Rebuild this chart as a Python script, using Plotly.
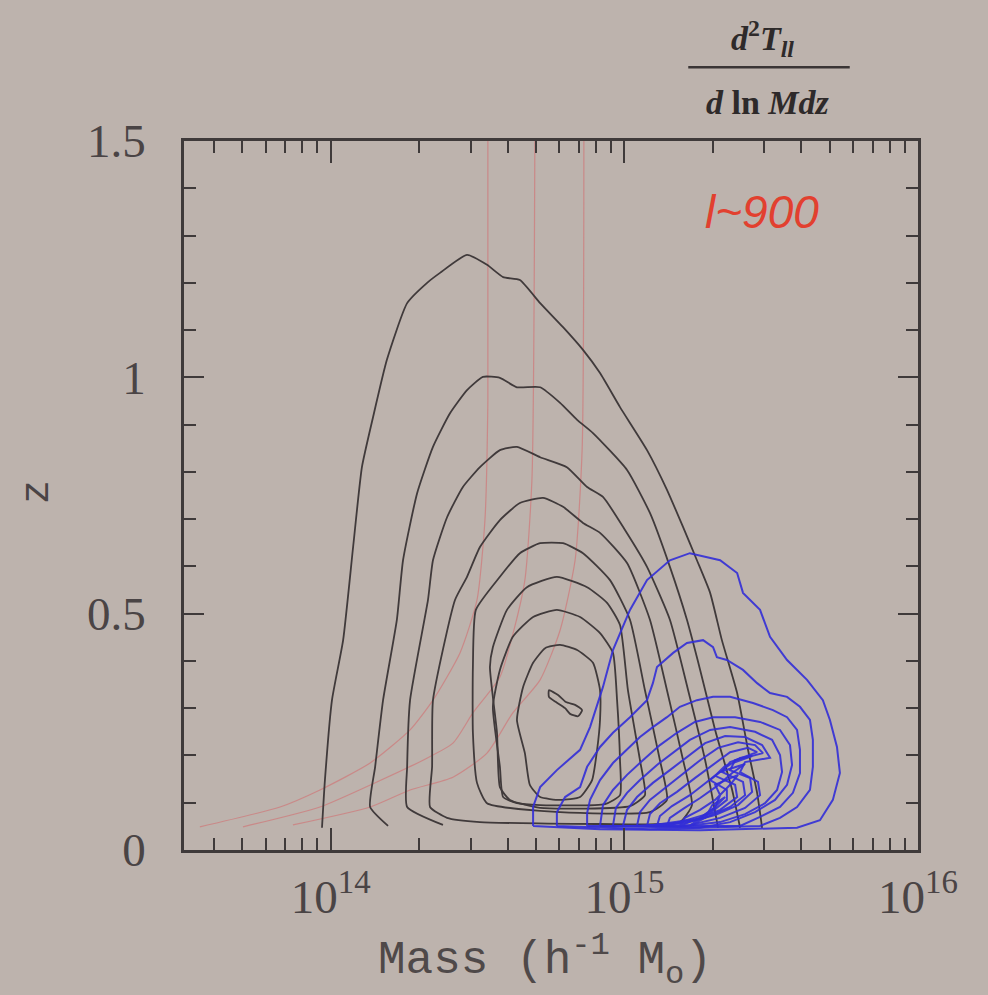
import plotly.graph_objects as go

# ---------------- data (log10 mass, redshift z) ----------------
black_logm = [
    [13.970, 13.980, 14.004, 14.042, 14.076, 14.106, 14.144, 14.191, 14.260, 14.328, 14.372, 14.464,
     14.532, 14.587, 14.644, 14.713, 14.791, 14.859, 14.917, 14.985, 15.077, 15.145, 15.200, 15.247,
     15.292, 15.332, 15.384, 15.421, 15.452, 15.469],
    [14.195, 14.134, 14.151, 14.178, 14.225, 14.246, 14.294, 14.348, 14.406, 14.464, 14.518, 14.576,
     14.634, 14.713, 14.781, 14.839, 14.893, 15.009, 15.087, 15.155, 15.213, 15.258, 15.309, 15.367, 15.394],
    [14.382, 14.260, 14.260, 14.270, 14.331, 14.348, 14.396, 14.450, 14.508, 14.576, 14.634, 14.713,
     14.804, 14.873, 14.927, 15.002, 15.077, 15.155, 15.217, 15.275, 15.319],
    [14.508, 14.396, 14.338, 14.345, 14.348, 14.423, 14.464, 14.508, 14.576, 14.644, 14.723, 14.791,
     14.859, 14.917, 15.009, 15.087, 15.145, 15.200, 15.230, 15.189, 14.917, 14.508],
    [14.781, 14.532, 14.498, 14.484, 14.484, 14.494, 14.576, 14.644, 14.713, 14.791, 14.859, 14.951,
     15.019, 15.070, 15.121, 15.145, 15.087, 14.781],
    [14.713, 14.610, 14.576, 14.566, 14.542, 14.552, 14.600, 14.668, 14.770, 14.873, 14.941, 14.985,
     15.012, 15.053, 15.070, 15.019, 14.713],
    [14.713, 14.634, 14.587, 14.576, 14.552, 14.576, 14.620, 14.689, 14.770, 14.849, 14.917, 14.961,
     14.975, 14.985, 14.985, 14.934, 14.713],
    [14.781, 14.713, 14.678, 14.661, 14.634, 14.655, 14.689, 14.730, 14.781, 14.839, 14.893, 14.917,
     14.917, 14.907, 14.890, 14.849, 14.781],
    [14.743, 14.774, 14.801, 14.832, 14.856, 14.842, 14.815, 14.798, 14.767, 14.743, 14.743],
]
black_z = [
    [0.047, 0.148, 0.317, 0.444, 0.641, 0.810, 0.916, 1.037, 1.157, 1.200, 1.221, 1.259,
     1.238, 1.212, 1.206, 1.157, 1.106, 1.058, 1.009, 0.937, 0.846, 0.762, 0.683, 0.613,
     0.544, 0.444, 0.332, 0.212, 0.121, 0.047],
    [0.051, 0.091, 0.176, 0.317, 0.487, 0.613, 0.755, 0.853, 0.924, 0.973, 1.001, 0.999,
     0.979, 0.979, 0.946, 0.910, 0.882, 0.804, 0.713, 0.599, 0.487, 0.381, 0.254, 0.127, 0.047],
    [0.053, 0.091, 0.176, 0.317, 0.529, 0.613, 0.704, 0.768, 0.810, 0.846, 0.853, 0.831,
     0.810, 0.768, 0.747, 0.677, 0.599, 0.487, 0.338, 0.190, 0.047],
    [0.059, 0.068, 0.091, 0.176, 0.317, 0.529, 0.578, 0.641, 0.698, 0.734, 0.745, 0.726,
     0.692, 0.671, 0.607, 0.487, 0.338, 0.190, 0.095, 0.059, 0.055, 0.059],
    [0.080, 0.099, 0.142, 0.248, 0.387, 0.508, 0.578, 0.628, 0.649, 0.649, 0.628, 0.571,
     0.487, 0.338, 0.190, 0.106, 0.080, 0.080],
    [0.089, 0.106, 0.133, 0.248, 0.387, 0.429, 0.508, 0.556, 0.578, 0.556, 0.523, 0.476,
     0.338, 0.190, 0.116, 0.093, 0.089],
    [0.095, 0.099, 0.112, 0.176, 0.303, 0.381, 0.451, 0.493, 0.508, 0.493, 0.459, 0.417,
     0.317, 0.190, 0.116, 0.097, 0.095],
    [0.106, 0.112, 0.138, 0.205, 0.275, 0.345, 0.396, 0.427, 0.434, 0.423, 0.396, 0.338,
     0.275, 0.212, 0.148, 0.112, 0.106],
    [0.338, 0.328, 0.313, 0.307, 0.296, 0.283, 0.288, 0.300, 0.313, 0.324, 0.338],
]

blue_logm = [
    [14.689, 14.689, 14.713, 14.770, 14.849, 14.883, 14.927, 14.961, 15.019, 15.077, 15.155, 15.223,
     15.326, 15.384, 15.404, 15.462, 15.496, 15.554, 15.622, 15.676, 15.700, 15.724, 15.734, 15.710,
     15.666, 15.588, 15.258, 14.917, 14.689],
    [14.770, 14.770, 14.798, 14.849, 14.873, 14.917, 14.961, 15.019, 15.077, 15.097, 15.111, 15.166,
     15.213, 15.268, 15.302, 15.315, 15.349, 15.404, 15.452, 15.496, 15.554, 15.598, 15.632, 15.642,
     15.642, 15.632, 15.588, 15.530, 15.462, 15.087, 14.770],
    [14.873, 14.873, 14.883, 14.917, 14.961, 15.009, 15.053, 15.097, 15.145, 15.189, 15.247, 15.302,
     15.360, 15.438, 15.506, 15.554, 15.588, 15.598, 15.598, 15.574, 15.530, 15.462, 15.394, 14.873],
    [14.917, 14.927, 14.961, 15.009, 15.063, 15.121, 15.179, 15.240, 15.302, 15.377, 15.462, 15.530,
     15.564, 15.571, 15.554, 15.513, 15.445, 15.360, 15.258, 14.917],
    [14.961, 14.971, 15.009, 15.053, 15.111, 15.166, 15.223, 15.292, 15.360, 15.445, 15.503, 15.530,
     15.537, 15.520, 15.479, 15.411, 15.326, 15.189, 14.961],
    [14.995, 15.009, 15.043, 15.097, 15.155, 15.213, 15.275, 15.343, 15.411, 15.469, 15.496, 15.411,
     15.394, 15.455, 15.462, 15.411, 15.326, 15.223, 14.995],
    [15.043, 15.053, 15.087, 15.138, 15.196, 15.258, 15.319, 15.387, 15.445, 15.472, 15.377, 15.360,
     15.428, 15.435, 15.387, 15.309, 15.206, 15.043],
    [15.077, 15.087, 15.121, 15.179, 15.240, 15.299, 15.360, 15.421, 15.452, 15.360, 15.332, 15.404,
     15.411, 15.360, 15.275, 15.077],
    [15.111, 15.121, 15.162, 15.223, 15.281, 15.336, 15.394, 15.435, 15.343, 15.309, 15.377, 15.384,
     15.326, 15.240, 15.111],
    [15.145, 15.155, 15.200, 15.258, 15.315, 15.367, 15.411, 15.326, 15.292, 15.349, 15.349, 15.292, 15.145],
    [15.189, 15.206, 15.258, 15.309, 15.360, 15.387, 15.309, 15.326, 15.309, 15.258, 15.189],
    [15.223, 15.247, 15.299, 15.343, 15.299, 15.275, 15.223],
]
blue_z = [
    [0.051, 0.091, 0.133, 0.169, 0.212, 0.260, 0.345, 0.423, 0.508, 0.571, 0.613, 0.628,
     0.613, 0.586, 0.544, 0.508, 0.451, 0.402, 0.360, 0.317, 0.275, 0.218, 0.163, 0.106,
     0.063, 0.047, 0.042, 0.044, 0.051],
    [0.051, 0.080, 0.112, 0.133, 0.176, 0.218, 0.248, 0.281, 0.317, 0.353, 0.387, 0.417,
     0.438, 0.444, 0.429, 0.408, 0.402, 0.381, 0.353, 0.332, 0.324, 0.303, 0.275, 0.233,
     0.176, 0.127, 0.091, 0.068, 0.051, 0.044, 0.051],
    [0.051, 0.078, 0.106, 0.148, 0.184, 0.212, 0.239, 0.260, 0.281, 0.303, 0.317, 0.324,
     0.324, 0.311, 0.296, 0.281, 0.254, 0.212, 0.163, 0.121, 0.091, 0.070, 0.051, 0.051],
    [0.051, 0.095, 0.127, 0.159, 0.190, 0.222, 0.248, 0.271, 0.281, 0.281, 0.271, 0.254,
     0.222, 0.180, 0.138, 0.106, 0.080, 0.059, 0.047, 0.051],
    [0.051, 0.089, 0.121, 0.148, 0.180, 0.207, 0.233, 0.254, 0.260, 0.250, 0.233, 0.201,
     0.165, 0.127, 0.099, 0.076, 0.059, 0.049, 0.051],
    [0.051, 0.085, 0.112, 0.142, 0.169, 0.197, 0.226, 0.241, 0.239, 0.222, 0.195, 0.186,
     0.165, 0.144, 0.116, 0.089, 0.068, 0.053, 0.051],
    [0.051, 0.080, 0.106, 0.131, 0.159, 0.190, 0.216, 0.228, 0.222, 0.205, 0.190, 0.169,
     0.152, 0.123, 0.095, 0.074, 0.057, 0.051],
    [0.051, 0.076, 0.099, 0.123, 0.152, 0.180, 0.207, 0.216, 0.207, 0.186, 0.165, 0.144,
     0.116, 0.091, 0.068, 0.051],
    [0.051, 0.072, 0.093, 0.116, 0.144, 0.171, 0.195, 0.199, 0.178, 0.157, 0.138, 0.112,
     0.085, 0.063, 0.051],
    [0.051, 0.068, 0.087, 0.110, 0.135, 0.163, 0.182, 0.165, 0.148, 0.127, 0.106, 0.078, 0.051],
    [0.051, 0.068, 0.085, 0.106, 0.138, 0.159, 0.138, 0.116, 0.091, 0.068, 0.051],
    [0.051, 0.063, 0.085, 0.112, 0.095, 0.068, 0.051],
]

red_logm = [
    [13.554, 13.827, 13.963, 14.134, 14.270, 14.348, 14.440, 14.498, 14.525, 14.535, 14.535],
    [13.701, 13.963, 14.157, 14.314, 14.416, 14.484, 14.576, 14.621, 14.661, 14.685, 14.695],
    [13.871, 14.134, 14.270, 14.416, 14.532, 14.620, 14.713, 14.781, 14.832, 14.856, 14.862],
]
red_z = [
    [0.049, 0.091, 0.127, 0.184, 0.254, 0.317, 0.417, 0.529, 0.698, 0.952, 1.500],
    [0.049, 0.091, 0.144, 0.190, 0.226, 0.290, 0.366, 0.459, 0.571, 0.783, 1.500],
    [0.053, 0.091, 0.127, 0.154, 0.205, 0.290, 0.360, 0.465, 0.613, 0.846, 1.500],
]

x_major_ticks = [1e14, 1e15, 1e16]
x_major_labels = ["10<sup>14</sup>", "10<sup>15</sup>", "10<sup>16</sup>"]
x_minor_ticks = [4e13, 5e13, 6e13, 7e13, 8e13, 9e13,
                 2e14, 3e14, 4e14, 5e14, 6e14, 7e14, 8e14, 9e14,
                 2e15, 3e15, 4e15, 5e15, 6e15, 7e15, 8e15, 9e15]
y_major_ticks = [0, 0.5, 1, 1.5]
y_major_labels = ["0", "0.5", "1", "1.5"]

# ---------------- figure ----------------
BG = "#bdb3ad"
AX = "#3f3a3a"
fig = go.Figure()

for lm, zz in zip(red_logm, red_z):
    fig.add_trace(go.Scatter(x=[10 ** v for v in lm], y=zz, mode="lines",
                             line=dict(color="rgba(215,95,100,0.5)", width=1.2, shape="spline", smoothing=0.6),
                             hoverinfo="skip", showlegend=False))

for lm, zz in zip(black_logm, black_z):
    fig.add_trace(go.Scatter(x=[10 ** v for v in lm], y=zz, mode="lines",
                             line=dict(color="#403a3b", width=1.8, shape="spline", smoothing=0.5),
                             hoverinfo="skip", showlegend=False))

for lm, zz in zip(blue_logm, blue_z):
    fig.add_trace(go.Scatter(x=[10 ** v for v in lm], y=zz, mode="lines",
                             line=dict(color="rgba(50,45,215,0.9)", width=2.0),
                             hoverinfo="skip", showlegend=False))

tickfont = dict(family="Liberation Serif", size=47, color="#4a4445")

fig.update_layout(
    width=988, height=995,
    margin=dict(l=184, r=70, t=141, b=145),
    paper_bgcolor=BG, plot_bgcolor=BG,
    showlegend=False,
    xaxis=dict(type="log", range=[13.5, 16], showgrid=False, zeroline=False,
               showline=True, linecolor=AX, linewidth=2.5, mirror="allticks",
               ticks="inside", ticklen=22, tickwidth=1.8, tickcolor=AX,
               tickmode="array", tickvals=x_major_ticks, ticktext=x_major_labels,
               tickfont=tickfont, ticklabelstandoff=4,
               minor=dict(tickmode="array", tickvals=x_minor_ticks, ticks="inside",
                          ticklen=12, tickwidth=1.8, tickcolor=AX, showgrid=False)),
    yaxis=dict(range=[0, 1.5], showgrid=False, zeroline=False,
               showline=True, linecolor=AX, linewidth=2.5, mirror="allticks",
               ticks="inside", ticklen=20, tickwidth=1.8, tickcolor=AX,
               tickmode="array", tickvals=y_major_ticks, ticktext=y_major_labels,
               tickfont=tickfont, ticklabelstandoff=26,
               minor=dict(dtick=0.1, ticks="inside", ticklen=12, tickwidth=1.8,
                          tickcolor=AX, showgrid=False)),
)

ann = dict(xref="paper", yref="paper", showarrow=False, xanchor="center", yanchor="middle")
fig.add_annotation(x=-0.199, y=0.505, text="z", textangle=-90,
                   font=dict(family="Liberation Mono", size=40, color="#4a4445"), **ann)
fig.add_annotation(x=0.492, y=-0.155, text="Mass (h<sup>-1</sup> M<sub>o</sub>)",
                   font=dict(family="Liberation Mono", size=46, color="#4f4949"), **ann)
fig.add_annotation(x=0.788, y=1.145,
                   text="<b><i>d</i><sup>2</sup><i>T</i><sub><i>ll</i></sub></b>",
                   font=dict(family="Liberation Serif", size=34, color="#2e2a2a"), **ann)
fig.add_annotation(x=0.796, y=1.055, text="<b><i>d</i> ln <i>Mdz</i></b>",
                   font=dict(family="Liberation Serif", size=34, color="#2e2a2a"), **ann)
fig.add_shape(type="line", xref="paper", yref="paper", x0=0.687, x1=0.907, y0=1.104, y1=1.104,
              line=dict(color="#3a3535", width=2.5))
fig.add_annotation(x=0.787, y=0.900, text="<i>l~900</i>",
                   font=dict(family="Liberation Sans", size=46, color="#e2402f"), **ann)

fig.write_html("out.html", config={"displayModeBar": False},
               post_script="document.body.style.margin='0';document.body.style.overflow='hidden';")
